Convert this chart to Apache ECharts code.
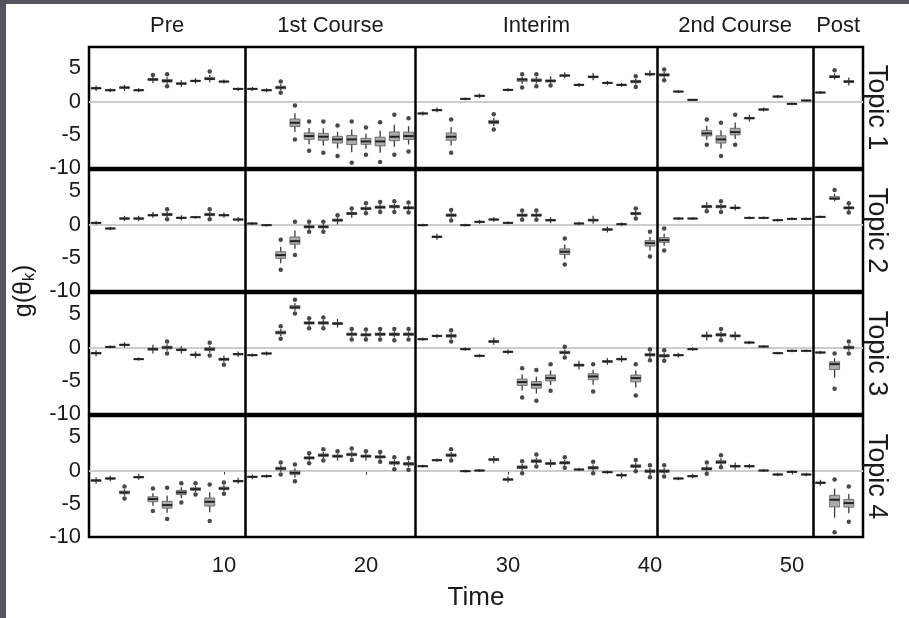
<!DOCTYPE html>
<html>
<head>
<meta charset="utf-8">
<script src="https://cdn.jsdelivr.net/npm/echarts@6/dist/echarts.min.js"></script>
<style>
  html, body { margin: 0; padding: 0; background: #fff; }
  #chart { width: 909px; height: 618px; }
</style>
</head>
<body>
<div id="chart"></div>
<script>
// phases of the study (x positions of the panel separators and labels)
const phases = ['Pre', '1st Course', 'Interim', '2nd Course', 'Post'];
const phaseMid = [6, 17.5, 32, 46, 53.25];
const phaseBreaks = [11.5, 23.5, 40.5, 51.5];
const topics = ['Topic 1', 'Topic 2', 'Topic 3', 'Topic 4'];
const xTicks = [10, 20, 30, 40, 50];
const yTicks = [-10, -5, 0, 5];

// medians and lowest / highest drawn values per time point (1..54)
const med1 = [2.0, 1.7, 2.1, 1.7, 3.3, 3.1, 2.7, 3.1, 3.4, 3.0, 1.9,
  1.9, 1.7, 2.1, -3.2, -5.2, -5.3, -5.7, -5.7, -6.0, -6.0, -5.3, -5.2,
  -1.8, -1.3, -5.3, 0.4, 0.85, -3.1, 1.75, 3.3, 3.2, 3.1, 3.9, 2.5, 3.7, 2.8, 2.5, 3.0, 4.1,
  4.0, 1.5, 0.25, -4.8, -5.7, -4.6, -2.5, -1.2, 0.75, -0.35, 0.15,
  1.35, 3.7, 3.0];
const lo1 = [1.6, 1.4, 1.6, 1.4, 2.8, 2.3, 2.2, 2.7, 2.9, 2.7, 1.6,
  1.6, 1.4, 1.3, -5.7, -7.4, -7.7, -8.2, -9.2, -8.0, -9.1, -8.0, -7.5,
  -2.1, -1.6, -7.7, 0.2, 0.5, -4.2, 1.5, 2.1, 2.3, 2.4, 3.5, 2.2, 3.2, 2.5, 2.2, 2.2, 3.8,
  3.2, 1.3, 0.1, -6.5, -8.2, -6.5, -3.0, -1.5, 0.5, -0.55, 0.0,
  1.15, 3.3, 2.4];
const hi1 = [2.4, 2.0, 2.5, 2.0, 4.0, 4.1, 3.2, 3.5, 4.5, 3.3, 2.1,
  2.2, 2.0, 3.0, -0.6, -3.0, -3.0, -3.6, -3.0, -3.9, -3.1, -2.0, -2.5,
  -1.5, -0.9, -2.7, 0.6, 1.2, -1.9, 2.0, 4.1, 4.1, 3.8, 4.4, 2.8, 4.3, 3.1, 2.8, 3.8, 4.7,
  4.8, 1.7, 0.4, -2.7, -3.2, -2.0, -2.0, -0.9, 1.0, -0.15, 0.3,
  1.55, 4.7, 3.6];

const med2 = [0.25, -0.6, 0.9, 0.9, 1.4, 1.5, 1.0, 1.1, 1.5, 1.4, 0.75,
  0.15, -0.1, -4.6, -2.5, -0.35, -0.35, 0.65, 1.65, 2.4, 2.6, 2.7, 2.5,
  -0.1, -1.85, 1.4, -0.1, 0.4, 0.75, 0.25, 1.4, 1.4, 0.65, -4.1, 0.15, 0.65, -0.75, 0.05, 1.65, -2.8,
  -2.35, 0.9, 0.9, 2.7, 2.7, 2.5, 1.0, 1.0, 0.65, 0.85, 0.85,
  1.15, 3.9, 2.5];
const lo2 = [0.0, -0.85, 0.5, 0.5, 1.0, 0.8, 0.6, 0.9, 0.8, 1.0, 0.4,
  -0.05, -0.3, -6.8, -4.6, -1.1, -1.1, 0.0, 1.0, 1.7, 1.9, 1.9, 1.8,
  -0.3, -2.3, 0.6, -0.3, 0.1, 0.4, 0.05, 0.7, 0.7, 0.2, -6.0, -0.1, 0.1, -1.2, -0.2, 0.9, -4.8,
  -3.9, 0.7, 0.7, 2.0, 1.9, 2.1, 0.8, 0.8, 0.45, 0.65, 0.65,
  0.95, 3.5, 1.8];
const hi2 = [0.5, -0.35, 1.3, 1.3, 1.9, 2.3, 1.4, 1.3, 2.3, 1.8, 1.1,
  0.35, 0.1, -2.3, 0.4, 0.4, 0.4, 1.4, 2.4, 3.2, 3.4, 3.5, 3.3,
  0.1, -1.4, 2.2, 0.1, 0.7, 1.1, 0.45, 2.1, 2.1, 1.1, -2.1, 0.4, 1.3, -0.3, 0.3, 2.4, -1.1,
  -0.6, 1.1, 1.1, 3.4, 3.5, 3.0, 1.2, 1.2, 0.85, 1.05, 1.05,
  1.35, 5.2, 3.2];

const med3 = [-0.85, 0.1, 0.4, -1.75, -0.25, 0.0, -0.35, -1.1, -0.25, -1.75, -1.0,
  -1.15, -0.9, 2.25, 6.05, 3.7, 3.7, 3.6, 2.0, 1.9, 2.0, 2.0, 2.0,
  1.25, 1.75, 1.75, -0.25, -1.25, 0.9, -0.65, -5.2, -5.6, -4.6, -0.75, -2.65, -4.35, -2.1, -1.75, -4.6, -1.1,
  -1.25, -1.15, -0.25, 1.75, 1.9, 1.75, 0.75, 0.15, -0.85, -0.5, -0.5,
  -0.75, -2.5, 0.0];
const lo3 = [-1.3, -0.1, 0.0, -2.0, -0.9, -0.9, -0.9, -1.6, -1.2, -2.6, -1.4,
  -1.4, -1.2, 1.3, 5.1, 2.9, 2.9, 3.0, 1.2, 1.2, 1.2, 1.1, 1.2,
  1.0, 1.4, 0.9, -0.5, -1.5, 0.4, -1.0, -7.5, -8.0, -6.5, -1.5, -3.3, -6.6, -2.6, -2.2, -7.2, -1.9,
  -2.0, -1.5, -0.5, 1.1, 1.1, 1.1, 0.5, -0.05, -1.05, -0.7, -0.7,
  -1.0, -6.2, -0.9];
const hi3 = [-0.4, 0.3, 0.8, -1.5, 0.4, 0.9, 0.2, -0.6, 0.7, -1.2, -0.6,
  -0.9, -0.6, 3.2, 7.2, 4.4, 4.5, 4.3, 2.8, 2.7, 2.8, 2.8, 2.8,
  1.5, 2.0, 2.6, 0.0, -1.0, 1.5, -0.3, -3.1, -3.4, -2.5, 0.1, -2.0, -2.5, -1.6, -1.2, -2.5, -0.3,
  -0.4, -0.8, 0.0, 2.4, 2.8, 2.4, 1.0, 0.35, -0.65, -0.3, -0.3,
  -0.5, -0.9, 0.9];

const med4 = [-1.5, -1.2, -3.3, -1.0, -4.3, -5.2, -3.3, -2.8, -4.7, -2.7, -1.6,
  -0.95, -0.85, 0.3, -0.35, 1.9, 2.3, 2.15, 2.4, 2.15, 2.05, 1.15, 1.0,
  0.65, 1.55, 2.3, -0.1, 0.0, 1.65, -1.35, 0.5, 1.4, 1.05, 1.15, 0.15, 0.4, -0.25, -0.7, 0.65, -0.1,
  -0.1, -1.2, -0.85, 0.25, 1.25, 0.65, 0.65, 0.0, -0.6, -0.2, -0.6,
  -1.85, -4.4, -4.9];
const lo4 = [-2.0, -1.6, -4.2, -1.4, -6.1, -7.3, -4.8, -3.6, -7.6, -3.5, -2.0,
  -1.3, -1.1, -0.6, -1.6, 1.1, 1.5, 1.5, 1.6, 1.5, 1.3, 0.2, 0.1,
  0.45, 1.3, 1.5, -0.3, -0.2, 1.1, -1.8, -0.4, 0.6, 0.5, 0.4, -0.05, -0.4, -0.5, -1.2, -0.1, -1.0,
  -0.9, -1.45, -1.2, -0.5, 0.5, 0.1, 0.3, -0.2, -0.85, -0.4, -0.85,
  -2.3, -9.3, -7.7];
const hi4 = [-1.0, -0.8, -2.4, -0.5, -2.7, -2.6, -1.9, -1.9, -2.1, -1.8, -1.1,
  -0.6, -0.6, 1.2, 0.9, 2.6, 3.2, 2.9, 3.3, 2.9, 2.8, 2.0, 1.9,
  0.85, 1.8, 3.2, 0.1, 0.2, 2.2, -0.9, 1.4, 2.4, 1.7, 2.0, 0.4, 1.3, 0.0, -0.3, 1.6, 0.8,
  0.8, -0.95, -0.5, 1.2, 2.3, 1.2, 1.0, 0.2, -0.35, 0.0, -0.35,
  -1.4, -1.35, -2.4];

const meds = [med1, med2, med3, med4];
const los = [lo1, lo2, lo3, lo4];
const his = [hi1, hi2, hi3, hi4];

const FONT = 'Liberation Sans';
const TEXT = '#1a1a1a';
const gridTop = 47;
const gridH = 121;
const gridStep = 123;
const DOT_GAP = 0.7; // extremes further than this from the median are drawn as outlier dots

// [time, whisker low, Q1, median, Q3, whisker high]
function boxData(med, lo, hi) {
  return med.map((m, i) => {
    const dl = m - lo[i];
    const dh = hi[i] - m;
    const wl = dl >= DOT_GAP ? m - 0.55 * dl : lo[i];
    const wh = dh >= DOT_GAP ? m + 0.55 * dh : hi[i];
    return [i + 1, wl, m - 0.22 * dl, m, m + 0.22 * dh, wh];
  });
}
function dotData(med, lo, hi) {
  const out = [];
  med.forEach((m, i) => {
    if (m - lo[i] >= DOT_GAP) out.push([i + 1, lo[i]]);
    if (hi[i] - m >= DOT_GAP) out.push([i + 1, hi[i]]);
  });
  return out;
}

// ggplot-like box: whisker without caps, grey box, dark median bar
function renderBox(params, api) {
  const t = api.value(0);
  const pt = k => api.coord([t, api.value(k)]);
  const cx = pt(3)[0];
  const yLo = pt(1)[1], yQ1 = pt(2)[1], yMed = pt(3)[1], yQ3 = pt(4)[1], yHi = pt(5)[1];
  const hw = 5;
  return {
    type: 'group',
    children: [
      { type: 'line', shape: { x1: cx, y1: yLo, x2: cx, y2: yHi }, style: { stroke: '#3a3a3a', lineWidth: 1.3 } },
      { type: 'rect', shape: { x: cx - hw, y: yQ3, width: 2 * hw, height: yQ1 - yQ3 },
        style: { fill: '#acacac', stroke: '#5a5a5a', lineWidth: 0.8 } },
      { type: 'line', shape: { x1: cx - hw, y1: yMed, x2: cx + hw, y2: yMed }, style: { stroke: '#222', lineWidth: 2 } }
    ]
  };
}

const chart = echarts.init(document.getElementById('chart'));

const grids = [], xAxes = [], yAxes = [], series = [], graphics = [];

topics.forEach((name, i) => {
  const top = gridTop + i * gridStep;
  grids.push({
    left: 89, right: 46, top: top, height: gridH,
    show: true, borderColor: '#000', borderWidth: 2.5,
    backgroundColor: 'transparent', containLabel: false
  });

  const isTop = i === 0;
  const isBottom = i === topics.length - 1;
  xAxes.push({
    type: 'value', gridIndex: i, min: 0.5, max: 55,
    position: isTop ? 'top' : 'bottom',
    axisLine: { show: false },
    splitLine: { show: false },
    axisTick: isBottom
      ? { show: true, customValues: xTicks, length: 4, lineStyle: { color: '#333' } }
      : { show: false },
    axisLabel: isTop
      ? { show: true, customValues: phaseMid, margin: 10, fontSize: 22, fontFamily: FONT, color: TEXT,
          formatter: v => phases[phaseMid.indexOf(v)] || '' }
      : isBottom
        ? { show: true, customValues: xTicks, margin: 18, fontSize: 22, fontFamily: FONT, color: TEXT }
        : { show: false },
    name: isBottom ? 'Time' : '',
    nameLocation: 'middle', nameGap: 48,
    nameTextStyle: { fontSize: 26, fontFamily: FONT, color: TEXT }
  });
  yAxes.push({
    type: 'value', gridIndex: i, min: -10, max: 8.2,
    axisLine: { show: false },
    splitLine: { show: false },
    axisTick: { show: false },
    axisLabel: { customValues: yTicks, margin: 8, fontSize: 22, fontFamily: FONT, color: TEXT }
  });

  // zero reference line, under everything else
  series.push({
    type: 'line', xAxisIndex: i, yAxisIndex: i, data: [], z: 1, silent: true,
    markLine: {
      z: 1, silent: true, symbol: ['none', 'none'], label: { show: false }, animation: false,
      lineStyle: { color: '#cdcdcd', width: 2, type: 'solid' },
      data: [{ yAxis: 0 }]
    }
  });
  series.push({
    type: 'custom', xAxisIndex: i, yAxisIndex: i, z: 2, silent: true,
    renderItem: renderBox,
    encode: { x: 0, y: [1, 2, 3, 4, 5] },
    data: boxData(meds[i], los[i], his[i])
  });
  series.push({
    type: 'scatter', xAxisIndex: i, yAxisIndex: i, z: 3, silent: true,
    symbolSize: 4.5,
    itemStyle: { color: '#1c1c1c' },
    data: dotData(meds[i], los[i], his[i]),
    markLine: {
      silent: true, symbol: ['none', 'none'], label: { show: false }, animation: false,
      lineStyle: { color: '#000', width: 2.5, type: 'solid' },
      data: phaseBreaks.map(x => ({ xAxis: x }))
    }
  });

  graphics.push({
    type: 'text', x: 876, y: top + gridH / 2, rotation: -Math.PI / 2,
    style: { text: name, fontSize: 27, fontFamily: FONT, fill: TEXT, align: 'center', verticalAlign: 'middle' }
  });
});

// y axis title g(θ_k)
graphics.push({
  type: 'text', x: 24, y: 291, rotation: Math.PI / 2,
  style: {
    text: '{a|g(θ}{b|k}{a|)}',
    align: 'center', verticalAlign: 'middle', fill: TEXT, fontFamily: FONT,
    rich: {
      a: { fontSize: 25, fontFamily: FONT, fill: TEXT },
      b: { fontSize: 16, fontFamily: FONT, fill: TEXT, padding: [12, 0, 0, 0] }
    }
  }
});
// dark frame strips of the original picture
graphics.push({ type: 'rect', shape: { x: 0, y: 0, width: 6, height: 618 }, style: { fill: '#55535e' } });
graphics.push({ type: 'rect', shape: { x: 0, y: 0, width: 909, height: 4 }, style: { fill: '#55535e' } });

chart.setOption({
  animation: false,
  backgroundColor: '#fff',
  grid: grids,
  xAxis: xAxes,
  yAxis: yAxes,
  series: series,
  graphic: graphics
});
</script>
</body>
</html>
